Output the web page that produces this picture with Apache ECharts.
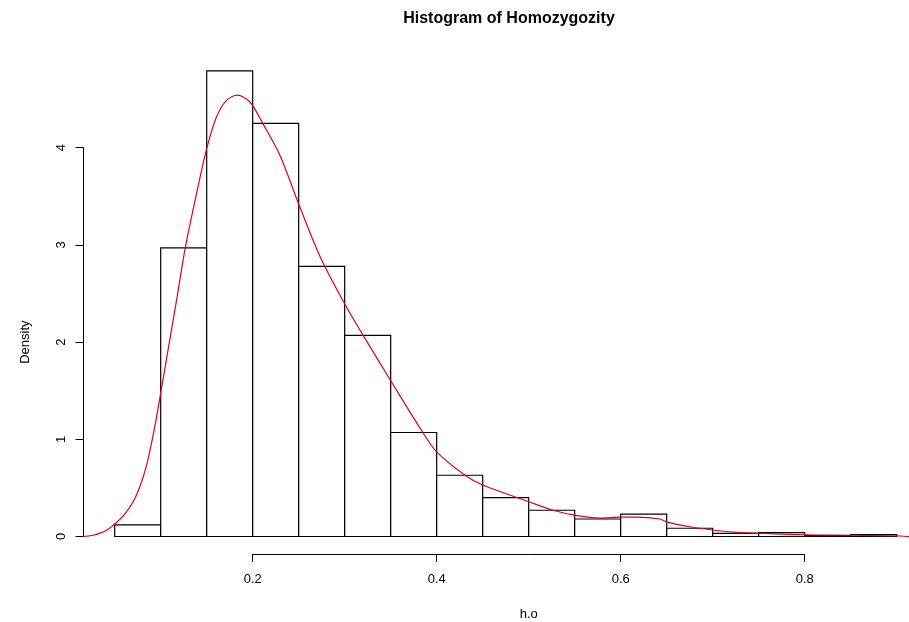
<!DOCTYPE html>
<html>
<head>
<meta charset="utf-8">
<script src="https://cdn.jsdelivr.net/npm/echarts@6/dist/echarts.min.js"></script>
<style>html,body{margin:0;padding:0;background:#fff;}#c{width:909px;height:622px;}</style>
</head>
<body>
<div id="c"></div>
<script>
// Histogram bins (left edges, width 0.05) and densities
var binStarts = [0.05,0.10,0.15,0.20,0.25,0.30,0.35,0.40,0.45,0.50,0.55,0.60,0.65,0.70,0.75,0.80,0.85];
var binWidth = 0.05;
var densities = [0.12,2.97,4.79,4.25,2.78,2.07,1.07,0.63,0.40,0.27,0.18,0.23,0.085,0.033,0.04,0.01,0.02];

// Kernel density curve
var curveX = [0.0155,0.025,0.034,0.042,0.0496,0.06,0.0702,0.078,0.0848,0.09,0.0957,0.1058,0.1167,0.1267,0.139,0.15,0.1608,0.1717,0.1833,0.197,0.2115,0.2297,0.25,0.2732,0.2996,0.3232,0.3496,0.3829,0.4,0.4308,0.45,0.4996,0.5267,0.5496,0.578,0.5996,0.6175,0.6427,0.65,0.6753,0.7,0.7225,0.7514,0.8,0.85,0.904,0.9134];
var curveY = [0,0.01,0.035,0.07,0.125,0.22,0.36,0.53,0.74,0.96,1.24,1.8,2.4,2.97,3.53,3.99,4.32,4.49,4.54,4.47,4.24,3.92,3.42,2.88,2.40,2.02,1.61,1.10,0.87,0.63,0.53,0.36,0.27,0.22,0.19,0.20,0.20,0.18,0.15,0.10,0.067,0.045,0.033,0.018,0.013,0.005,0];

var xTicks = [0.2,0.4,0.6,0.8];
var yTicks = [0,1,2,3,4];

var titleText = 'Histogram of Homozygozity';
var xName = 'h.o';
var yName = 'Density';

var font = 'Liberation Sans, Arial, Helvetica, sans-serif';

var barData = binStarts.map(function(s,i){ return [s, s+binWidth, densities[i]]; });
var curveData = curveX.map(function(x,i){ return [x, curveY[i]]; });

var chart = echarts.init(document.getElementById('c'), null, {renderer:'canvas'});
chart.setOption({
  backgroundColor:'#ffffff',
  animation:false,
  title:{
    text:titleText, left:504, top:6, textAlign:'center',
    textStyle:{fontFamily:font, fontSize:16, fontWeight:'bold', color:'#000'}
  },
  grid:[
    {left:68.7, top:50.5, width:840.3, bottom:85.5, containLabel:false},
    {left:83.5, top:147.7, width:10, bottom:85.5},
    {left:252.7, width:552, top:545, bottom:67}
  ],
  xAxis:[
    {gridIndex:0, type:'value', min:0, max:0.9134, show:false},
    {gridIndex:1, type:'value', min:0, max:1, show:false},
    {gridIndex:2, type:'value', min:0.2, max:0.8, interval:0.2, position:'bottom',
      axisLine:{show:true, lineStyle:{color:'#000', width:1}},
      axisTick:{show:true, length:8, lineStyle:{color:'#000'}},
      axisLabel:{show:true, margin:19, fontFamily:font, fontSize:13, color:'#000',
        formatter:function(v){ return v.toFixed(1); }},
      splitLine:{show:false},
      name:xName, nameLocation:'middle', nameGap:54,
      nameTextStyle:{fontFamily:font, fontSize:13, color:'#000'}
    }
  ],
  yAxis:[
    {gridIndex:0, type:'value', min:0, max:5, show:false},
    {gridIndex:1, type:'value', min:0, max:4, interval:1, position:'left',
      axisLine:{show:true, lineStyle:{color:'#000', width:1}},
      axisTick:{show:true, length:8, lineStyle:{color:'#000'}},
      axisLabel:{show:true, margin:16, rotate:90, fontFamily:font, fontSize:13, color:'#000'},
      splitLine:{show:false},
      name:yName, nameLocation:'middle', nameGap:52, nameRotate:90,
      nameTextStyle:{fontFamily:font, fontSize:13, color:'#000'}
    },
    {gridIndex:2, type:'value', min:0, max:1, show:false}
  ],
  series:[
    {
      type:'custom', xAxisIndex:0, yAxisIndex:0, clip:false,
      data:barData,
      renderItem:function(params, api){
        var p0 = api.coord([api.value(0), 0]);
        var p1 = api.coord([api.value(1), api.value(2)]);
        return {
          type:'rect',
          shape:{x:p0[0], y:p1[1], width:p1[0]-p0[0], height:p0[1]-p1[1]},
          style:{fill:'#ffffff', stroke:'#000000', lineWidth:1.2}
        };
      }
    },
    {
      type:'line', xAxisIndex:0, yAxisIndex:0,
      data:curveData, smooth:0.3, showSymbol:false, symbol:'none',
      lineStyle:{color:'#e0001c', width:1.2}
    }
  ]
});
</script>
</body>
</html>
